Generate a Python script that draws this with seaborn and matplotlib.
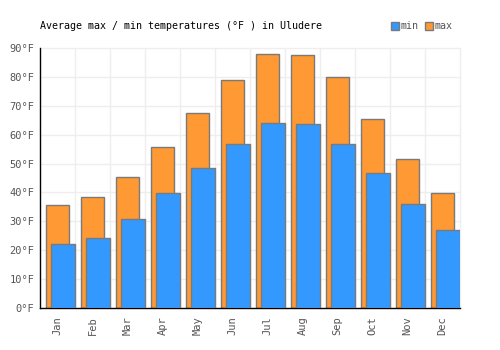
import pandas as pd
import matplotlib
matplotlib.use("Agg")
import matplotlib.pyplot as plt
import seaborn as sns
from matplotlib.patches import Patch

# data
months = ["Jan", "Feb", "Mar", "Apr", "May", "Jun",
          "Jul", "Aug", "Sep", "Oct", "Nov", "Dec"]
temp_max = [35.7, 38.4, 45.3, 55.7, 67.5, 78.9, 87.9, 87.6, 80.0, 65.4, 51.6, 39.8]
temp_min = [22.2, 24.2, 30.8, 39.8, 48.5, 56.8, 64.0, 63.7, 56.8, 46.7, 36.0, 27.0]
yticks = [0, 10, 20, 30, 40, 50, 60, 70, 80, 90]

df = pd.DataFrame({"month": months, "max": temp_max, "min": temp_min})

sns.set_style("white")
plt.rcParams["font.family"] = ["DejaVu Sans Mono"]

fig = plt.figure(figsize=(5, 3.5), dpi=100)
ax = fig.add_axes([0.08, 0.12, 0.84, 0.743])

edge = "#7a7a7a"
sns.barplot(data=df, x="month", y="max", color="#ff9933", saturation=1,
            width=0.66, edgecolor=edge, linewidth=1, ax=ax, zorder=2)
n = len(ax.patches)
sns.barplot(data=df, x="month", y="min", color="#3399ff", saturation=1,
            width=0.69, edgecolor=edge, linewidth=1, ax=ax, zorder=3)
# shift the min bars to the right half
for p in ax.patches[n:]:
    p.set_x(p.get_x() + 0.16)

ax.set_xlim(-0.5, 11.5)
ax.set_ylim(0, 90)
ax.set_yticks(yticks)
ax.set_yticklabels([f"{t}°F" for t in yticks])
ax.set_xlabel("")
ax.set_ylabel("")

# grid at category boundaries and every 10 degrees
for b in range(1, 13):
    ax.axvline(b - 0.5, color="#eeeeee", lw=1, zorder=0, clip_on=False)
for t in yticks[1:]:
    ax.axhline(t, color="#eeeeee", lw=1, zorder=0, clip_on=False)

for s in ["top", "right"]:
    ax.spines[s].set_visible(False)
ax.spines["left"].set_color("black")
ax.spines["bottom"].set_color("black")
ax.spines["left"].set_linewidth(1)
ax.spines["bottom"].set_linewidth(1)

ax.tick_params(axis="y", labelsize=7.5, length=0, pad=4)
ax.tick_params(axis="x", labelsize=7.5, length=0, pad=6)
plt.setp(ax.get_xticklabels(), rotation=90)
for lbl in ax.get_yticklabels() + ax.get_xticklabels():
    lbl.set_color("#555555")

fig.text(0.08, 0.925, "Average max / min temperatures (°F ) in Uludere",
         fontsize=7.2, color="black", va="center", ha="left")

handles = [Patch(facecolor="#3399ff", edgecolor=edge, label="min"),
           Patch(facecolor="#ff9933", edgecolor=edge, label="max")]
fig.legend(handles=handles, loc="center right", bbox_to_anchor=(0.905, 0.925),
           ncol=2, frameon=False, fontsize=7.2, handlelength=0.8, handleheight=0.8,
           handletextpad=0.2, columnspacing=0.6, labelcolor="#555555",
           borderaxespad=0, borderpad=0)

fig.savefig("out.png", dpi=100)
